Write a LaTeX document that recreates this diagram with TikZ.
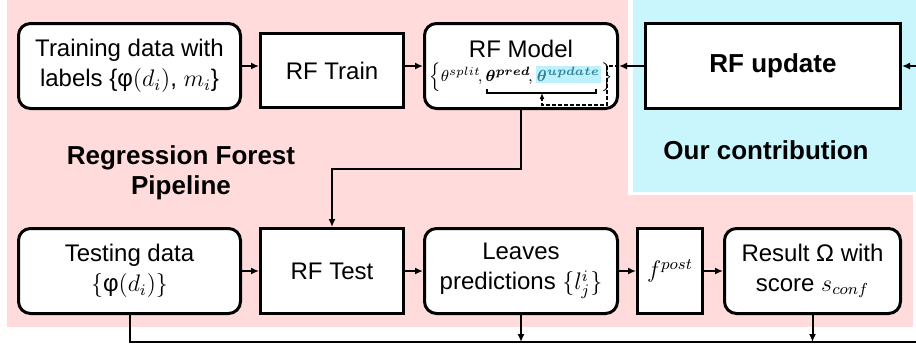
\documentclass[tikz,border=0pt]{standalone}
\usepackage{amsmath,bm}
\usepackage{fontspec}
\setmainfont{Liberation Sans}
\usepackage{tikz}
\usetikzlibrary{arrows.meta,positioning,backgrounds}
\usepackage{xcolor}
\definecolor{PipeBg}{HTML}{FFDBDB}
\definecolor{OursBg}{HTML}{C9F5FD}
\definecolor{UpdateHi}{HTML}{BDF1FF}
\definecolor{UpdateText}{HTML}{2E8296}
\tikzset{
  roundbox/.style={draw,line width=1.5pt,fill=white,rounded corners=6pt,inner sep=0pt,minimum height=42.5pt,align=center,font=\fontsize{12}{15}\selectfont},
  squarebox/.style={draw,line width=1.5pt,fill=white,inner sep=0pt,minimum height=42.5pt,align=center,font=\fontsize{12}{15}\selectfont},
  arrow/.style={-{Latex[length=4pt,width=3.5pt]},line width=1pt},
  plainline/.style={line width=1pt},
  feedback/.style={-{Latex[length=3pt,width=2.5pt]},line width=0.7pt,dash pattern=on 2pt off 1pt},
  headtext/.style={align=center,font=\bfseries\fontsize{13}{15}\selectfont}
}

\begin{document}
\begin{tikzpicture}[x=0.5pt,y=-0.5pt]
\useasboundingbox (0,0) rectangle (916,344);
% backgrounds
\fill[PipeBg] (7,0) rectangle (913,327);
\fill[white] (628,0) rectangle (916,195);
\fill[OursBg] (633,0) rectangle (916,192);

% top row
\node[roundbox,minimum width=111pt] (train) at (129.5,66) {Training data with\\labels \{φ$(d_i)$, $m_i$\}};
\node[squarebox,minimum width=71.5pt,minimum height=37pt] (rftrain) at (332,70.5) {RF Train};
\node[roundbox,minimum width=96.5pt] (model) at (521,66) {RF Model\\[-3pt]{\fontsize{8.5}{9}\selectfont$\left\{\theta^{split}\!,\boldsymbol{\theta}^{\boldsymbol{pred}}\!,\text{\setlength\fboxsep{0.6pt}\colorbox{UpdateHi}{$\color{UpdateText}\boldsymbol{\theta}^{\boldsymbol{update}}$}}\right\}$}};
\node[squarebox,minimum width=127.5pt,font=\bfseries\fontsize{13}{15}\selectfont] (update) at (773,66) {RF update};

% bottom row
\node[roundbox,minimum width=111pt] (test) at (129.5,271) {Testing data\\$\{$φ$(d_i)\}$};
\node[squarebox,minimum width=71.5pt] (rftest) at (332,271) {RF Test};
\node[roundbox,minimum width=96.5pt] (leaves) at (521,271) {Leaves\\predictions $\{l^i_j\}$};
\node[squarebox,minimum width=32.5pt] (fpost) at (670,271) {$f^{post}$};
\node[roundbox,minimum width=88pt] (result) at (812.5,271) {Result Ω with\\score $s_{conf}$};

% labels
\node[headtext] (pipe) at (181,173) {Regression Forest\\Pipeline};
\node[headtext] (ours) at (766,150) {Our contribution};

% connectors
\coordinate (updin) at (916,66);
\coordinate (elbow) at (332,169);
\coordinate (busend) at (916,342);
\coordinate (brk) at (542,93);
\draw[arrow] (train.east) -- (train.east -| rftrain.west);
\draw[arrow] (rftrain.east |- model.west) -- (model.west);
\draw[arrow] (updin) -- (update.east);
\draw[arrow] (update.west) -- (model.east);
\draw[arrow] (model.south) |- (elbow) -- (rftest.north);
\draw[arrow] (test.east) -- (rftest.west);
\draw[arrow] (rftest.east) -- (leaves.west);
\draw[arrow] (leaves.east) -- (fpost.west);
\draw[arrow] (fpost.east) -- (result.west);
\draw[plainline] (test.south) |- (busend);
\draw[arrow] (leaves.south) -- (leaves.south |- busend);
\draw[arrow] (result.south) -- (result.south |- busend);

% update feedback into the parameters
\draw[line width=0.6pt] (487,89) -- (487,93) -- (596,93) -- (596,89);
\draw[feedback] (model.east) -- ++(-12,0) -- ++(0,39) -| (brk);
\end{tikzpicture}
\end{document}
